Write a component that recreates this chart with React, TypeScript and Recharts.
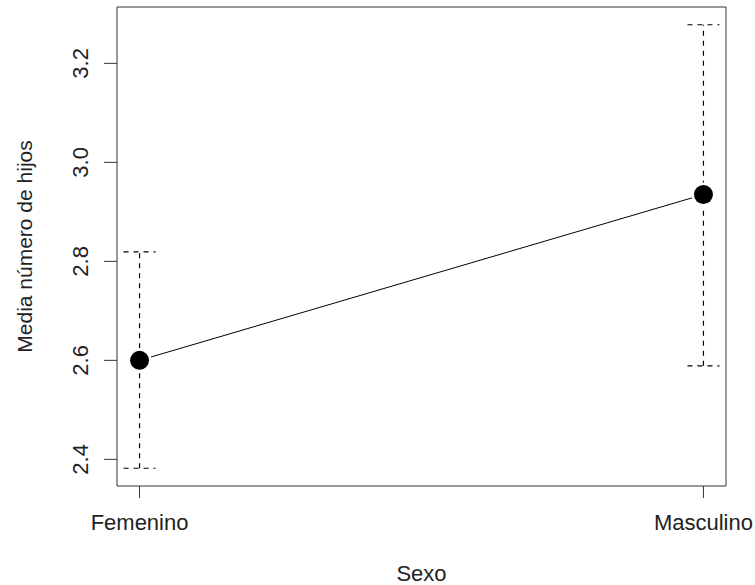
import React from 'react';
import { ComposedChart, Line, Scatter, ErrorBar, XAxis, YAxis, ReferenceLine } from 'recharts';

const categories = ['Femenino', 'Masculino'];
const means = [2.6, 2.935];
const lowerCI = [2.382, 2.589];
const upperCI = [2.819, 3.278];
const yTicks = [2.4, 2.6, 2.8, 3.0, 3.2];

const FONT = '"Liberation Sans", Arial, sans-serif';
const INK = '#222';
const AXIS = '#333';

const data = categories.map((name, i) => ({
  x: i + 1,
  name,
  mean: means[i],
  err: [means[i] - lowerCI[i], upperCI[i] - means[i]],
}));

// R-style axis limits: data range extended 4% on each side
const yLo = Math.min(...lowerCI);
const yHi = Math.max(...upperCI);
const yPad = (yHi - yLo) * 0.04;
const yDomain = [yLo - yPad, yHi + yPad];
const xPad = (categories.length - 1) * 0.04;
const xDomain = [1 - xPad, categories.length + xPad];

const XTick = (props: any) => {
  const { x, y, payload } = props;
  return (
    <text x={x} y={y + 32} textAnchor="middle" fontSize={22} fill={INK} fontFamily={FONT}>
      {categories[payload.value - 1]}
    </text>
  );
};

const YTick = (props: any) => {
  const { x, y, payload } = props;
  const tx = x - 16;
  return (
    <text
      x={tx}
      y={y}
      transform={`rotate(-90 ${tx} ${y})`}
      textAnchor="middle"
      fontSize={22}
      fill={INK}
      fontFamily={FONT}
    >
      {Number(payload.value).toFixed(1)}
    </text>
  );
};

const YTitle = (props: any) => {
  const { viewBox } = props;
  const cy = viewBox.y + viewBox.height / 2;
  const tx = 32;
  return (
    <text
      x={tx}
      y={cy}
      transform={`rotate(-90 ${tx} ${cy})`}
      textAnchor="middle"
      fontSize={21}
      fill={INK}
      fontFamily={FONT}
    >
      Media número de hijos
    </text>
  );
};

const XTitle = (props: any) => {
  const { viewBox } = props;
  const cx = viewBox.x + viewBox.width / 2;
  return (
    <text x={cx} y={581} textAnchor="middle" fontSize={22} fill={INK} fontFamily={FONT}>
      Sexo
    </text>
  );
};

const Halo = (props: any) => <circle cx={props.cx} cy={props.cy} r={12} fill="#fff" />;
const Dot = (props: any) => <circle cx={props.cx} cy={props.cy} r={9.5} fill="#000" />;

export default function App() {
  return (
    <div style={{ position: 'absolute', left: 0, top: 0, width: 755, height: 585, background: '#fff' }}>
      <ComposedChart
        width={755}
        height={585}
        data={data}
        margin={{ top: 7, right: 29, left: 0, bottom: 0 }}
      >
        <XAxis
          dataKey="x"
          type="number"
          domain={xDomain}
          allowDataOverflow
          ticks={[1, 2]}
          height={99}
          tick={<XTick />}
          tickSize={12}
          tickMargin={0}
          stroke={AXIS}
          label={<XTitle />}
        />
        <YAxis
          type="number"
          domain={yDomain}
          allowDataOverflow
          ticks={yTicks}
          width={117}
          tick={<YTick />}
          tickSize={13}
          tickMargin={0}
          stroke={AXIS}
          label={<YTitle />}
        />
        {/* top and right sides of the plot box */}
        <ReferenceLine y={yDomain[1]} stroke={AXIS} ifOverflow="visible" />
        <ReferenceLine x={xDomain[1]} stroke={AXIS} ifOverflow="visible" />
        <Line
          dataKey="mean"
          type="linear"
          stroke="#000"
          strokeWidth={1}
          dot={false}
          activeDot={false}
          isAnimationActive={false}
        />
        <Scatter dataKey="mean" shape={<Halo />} isAnimationActive={false} />
        <Scatter dataKey="mean" shape={<Dot />} isAnimationActive={false}>
          <ErrorBar
            dataKey="err"
            direction="y"
            width={16}
            stroke="#000"
            strokeWidth={1.2}
            strokeDasharray="5 5"
            isAnimationActive={false}
          />
        </Scatter>
      </ComposedChart>
    </div>
  );
}
